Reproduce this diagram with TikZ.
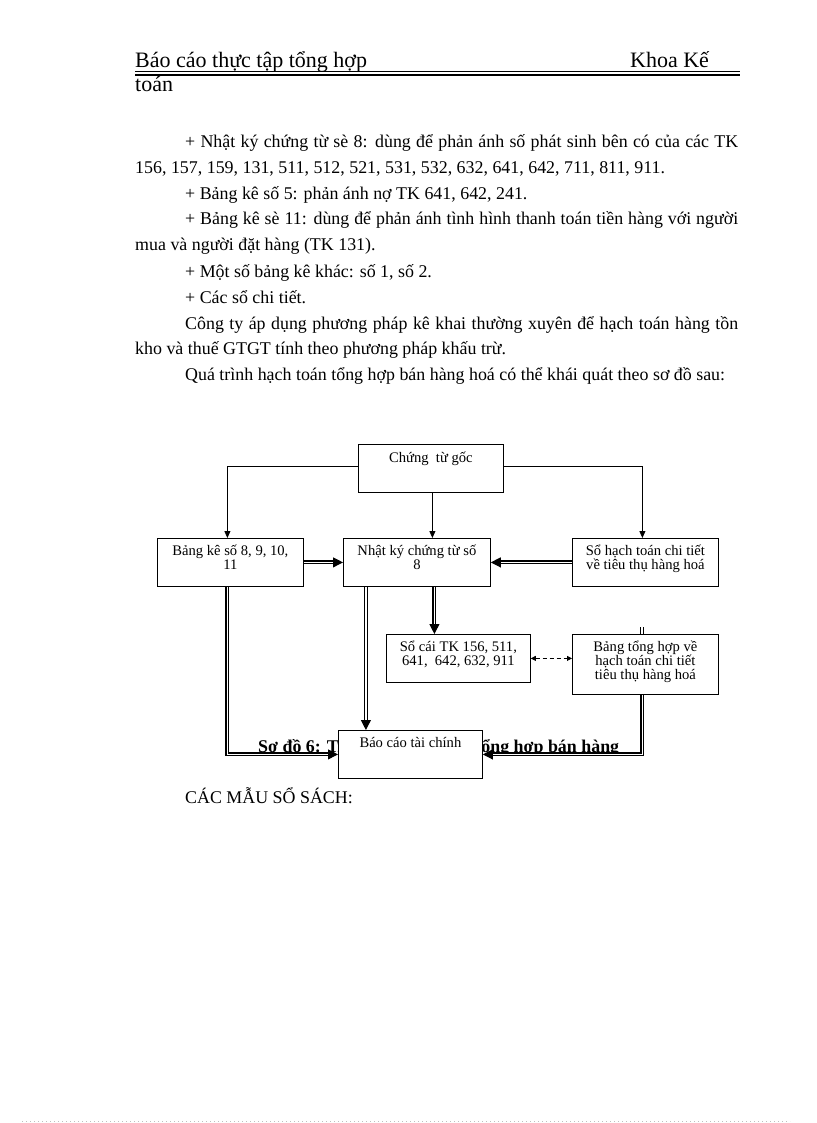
\documentclass[tikz,border=0pt]{standalone}
\usepackage{fontspec}
\setmainfont{Liberation Serif}
\usetikzlibrary{arrows.meta}
\begin{document}
\begin{tikzpicture}[x=1pt,y=-1pt,
  txt/.style={anchor=base west, inner sep=0, font=\fontsize{17.9}{21}\selectfont},
  hdr/.style={anchor=base west, inner sep=0, font=\fontsize{22}{25}\selectfont},
  box/.style={draw, line width=0.8pt, fill=white, anchor=north west, inner sep=0},
  btxt/.style={anchor=north, inner sep=0, align=center, font=\fontsize{14.6}{14}\selectfont},
  thinarr/.style={line width=0.8pt, -{Triangle[length=7pt,width=6pt]}},
  dblplain/.style={double, double distance=1.8pt, line width=1.1pt},
  dbl/.style={dblplain, -{Triangle[length=10pt,width=10pt]}},
  dsh/.style={line width=0.8pt, dash pattern=on 4pt off 3pt, {Triangle[length=5pt,width=5pt]}-{Triangle[length=5pt,width=5pt]}}
]
\useasboundingbox (0,0) rectangle (816,1123);
\fill[white] (0,0) rectangle (816,1123);

% header
\node[hdr] (h1) at (135,68) {Báo cáo thực tập tổng hợp};
\node[hdr] (h2) at (630,68) {Khoa Kế};
\draw[line width=0.8pt] (135,71.8) -- (740,71.8);
\draw[line width=1.8pt] (135,74.8) -- (740,74.8);
\node[hdr] (h3) at (135,92) {toán};

% body text
\node[txt] (l1) at (185,148) {\makebox[553pt][s]{+ Nhật ký chứng từ sè 8: dùng để phản ánh số phát sinh bên có của các TK}};
\node[txt] (l2) at (135,174) {156, 157, 159, 131, 511, 512, 521, 531, 532, 632, 641, 642, 711, 811, 911.};
\node[txt] (l3) at (185,199.5) {+ Bảng kê số 5: phản ánh nợ TK 641, 642, 241.};
\node[txt] (l4) at (185,225) {\makebox[553pt][s]{+ Bảng kê sè 11: dùng để phản ánh tình hình thanh toán tiền hàng với người}};
\node[txt] (l5) at (135,251) {mua và người đặt hàng (TK 131).};
\node[txt] (l6) at (185,277) {+ Một số bảng kê khác: số 1, số 2.};
\node[txt] (l7) at (185,303) {+ Các sổ chi tiết.};
\node[txt] (l8) at (185,329) {\makebox[553pt][s]{Công ty áp dụng phương pháp kê khai thường xuyên để hạch toán hàng tồn}};
\node[txt] (l9) at (135,354.5) {kho và thuế GTGT tính theo phương pháp khấu trừ.};
\node[txt] (l10) at (185,380) {Quá trình hạch toán tổng hợp bán hàng hoá có thể khái quát theo sơ đồ sau:};

% caption (partly hidden behind a box)
\node[txt, font=\fontsize{17.9}{21}\selectfont\bfseries] (cap) at (258,752) {Sơ đồ 6: Trình tự hạch toán tổng hợp bán hàng};

% boxes
\node[box, minimum width=145, minimum height=48] (goc) at (358,444) {};
\node[box, minimum width=146, minimum height=48] (bk) at (157,538) {};
\node[box, minimum width=147, minimum height=48] (nk) at (343,538) {};
\node[box, minimum width=146, minimum height=48] (sht) at (572,538) {};
\node[box, minimum width=144, minimum height=48] (sc) at (386,634) {};
\node[box, minimum width=146, minimum height=60] (bth) at (572,634) {};
\node[box, minimum width=144, minimum height=48] (bc) at (338,730) {};

\node[btxt] (goc-t) at ([yshift=-8pt]goc.north) {Chứng\ \ từ gốc};
\node[btxt] (bk-t) at ([yshift=-7pt]bk.north) {Bảng kê số 8, 9, 10,\\11};
\node[btxt] (nk-t) at ([yshift=-7pt]nk.north) {Nhật ký chứng từ số\\8};
\node[btxt] (sht-t) at ([yshift=-7pt]sht.north) {Sổ hạch toán chi tiết\\về tiêu thụ hàng hoá};
\node[btxt] (sc-t) at ([yshift=-7pt]sc.north) {Sổ cái TK 156, 511,\\641, \ 642, 632, 911};
\node[btxt] (bth-t) at ([yshift=-7pt]bth.north) {Bảng tổng hợp về\\hạch toán chi tiết\\tiêu thụ hàng hoá};
\node[btxt] (bc-t) at ([yshift=-7pt]bc.north) {Báo cáo tài chính};

% connectors
\draw[thinarr] ([yshift=2pt]goc.west) -| ([xshift=-3pt]bk.north);
\draw[thinarr] ([yshift=2pt]goc.east) -| ([xshift=-3pt]sht.north);
\draw[thinarr] ([xshift=1.5pt]goc.south) -- ([xshift=1.5pt]goc.south |- nk.north);
\draw[dbl] (bk.east) -- (nk.west);
\draw[dbl] (sht.west) -- (nk.east);
\draw[dbl] ([xshift=17.5pt]nk.south) -- ([xshift=17.5pt]nk.south |- sc.north);
\draw[dbl] ([xshift=-51pt]nk.south) -- ([xshift=-51pt]nk.south |- bc.north);
\draw[dbl] ([xshift=-3pt]bk.south) |- (bc.west);
\draw[dbl] ([xshift=-3pt]bth.south) |- (bc.east);
\coordinate (stub) at (642,627);
\draw[dblplain] (stub) -- (stub |- bth.north);
\draw[dsh] (sc.east) -- (sc.east -| bth.west);

\node[txt] (mau) at (185,803) {CÁC MẪU SỔ SÁCH:};

\draw[gray!50, line width=0.5pt, dash pattern=on 0.6pt off 3.4pt] (22,1121.5) -- (790,1121.5);
\end{tikzpicture}
\end{document}
